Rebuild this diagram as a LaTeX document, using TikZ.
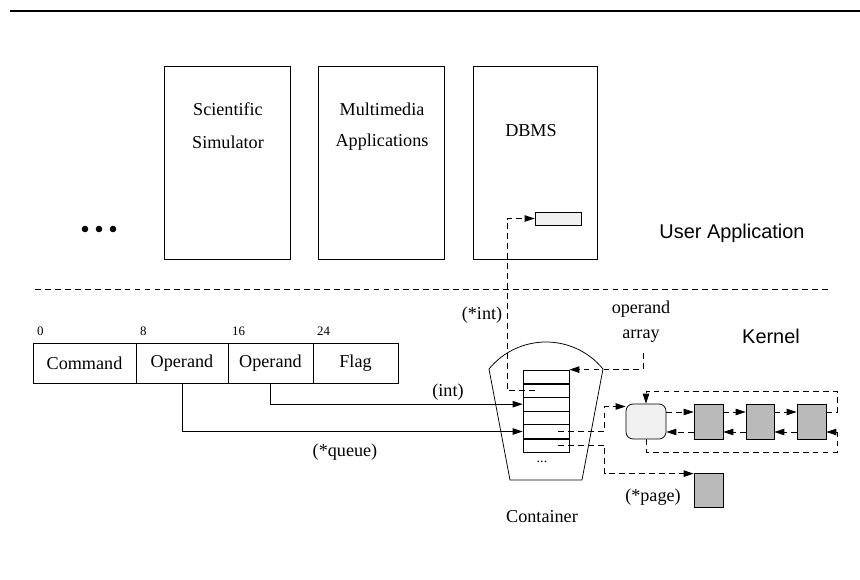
\documentclass[tikz,border=0pt]{standalone}
\usepackage{fontspec}
\setmainfont{Liberation Serif}
\newfontfamily\hvfont{Liberation Sans}
\usetikzlibrary{arrows.meta,fit,calc}
\begin{document}
\begin{tikzpicture}[x=0.03cm,y=-0.03cm,
  thinln/.style={line width=0.65pt},
  dsh/.style={line width=0.65pt, dash pattern=on 5pt off 3.5pt},
  tip/.style={-{Triangle[length=8.5pt,width=5.5pt]}},
  box/.style={draw, line width=0.65pt, inner sep=0pt},
  lbl/.style={font=\fontsize{15.5}{18}\selectfont, inner sep=0pt},
  small/.style={font=\fontsize{11}{13}\selectfont, inner sep=0pt, anchor=west},
  big/.style={font=\hvfont\fontsize{17}{20}\selectfont, inner sep=0pt},
  grayblk/.style={box, fill=black!27},
  lightblk/.style={box, fill=black!6},
  dotn/.style={circle, fill=black, inner sep=0pt, minimum size=5.6pt},
  rowbox/.style={box}
]
\useasboundingbox (0,0) rectangle (860,579);

% top rule
\draw[line width=1.3pt] (10,11) -- (860,11);

% application boxes
\node[box, fit={(164,66) (290,259)}] (sci) {};
\node[box, fit={(318,66) (444,259)}] (mm) {};
\node[box, fit={(473,66) (597,259)}] (dbms) {};
\node[lbl] (t1) at (228,109) {Scientific};
\node[lbl] (t2) at (228,142) {Simulator};
\node[lbl] (t3) at (382,109) {Multimedia};
\node[lbl] (t4) at (382,142) {Applications};
\node[lbl] (t5) at (531,131) {DBMS};
\node[lightblk, fit={(535,212) (581,225)}] (slot) {};

% dots
\node[dotn] (d1) at (85,229) {};
\node[dotn] (d2) at (99,229) {};
\node[dotn] (d3) at (113,229) {};

\node[big] (ua) at (732,233) {User Application};
\node[big] (kern) at (771,336) {Kernel};

% separator
\draw[dsh] (35,289) -- (830,289);

% command word
\node[box, fit={(33,343) (136,383)}] (cmd) {};
\node[box, fit={(136,343) (228,383)}] (op1) {};
\node[box, fit={(228,343) (313,383)}] (op2) {};
\node[box, fit={(313,343) (398,383)}] (flag) {};
\node[lbl] (tc) at (cmd.center) {Command};
\node[lbl] (to1) at (op1.center) {Operand};
\node[lbl] (to2) at (op2.center) {Operand};
\node[lbl] (tf) at (flag.center) {Flag};
\node[small] (b0) at (37,331) {0};
\node[small] (b8) at (140,331) {8};
\node[small] (b16) at (232,331) {16};
\node[small] (b24) at (317,331) {24};

% container
\draw[thinln] (489,369) -- (510,480) -- (582,480) -- (603,369)
  .. controls (573.5,333) and (518.5,333) .. (489,369);
\node[lbl] (cont) at (542,517) {Container};
\node[font=\fontsize{12}{14}\selectfont, inner sep=0pt] (ell) at (542,462) {...};

% operand array rows
\node[rowbox, fit={(523,370) (569,383.67)}] (r1) {};
\node[rowbox, fit={(523,383.67) (569,397.33)}] (r2) {};
\node[rowbox, fit={(523,397.33) (569,411)}] (r3) {};
\node[rowbox, fit={(523,411) (569,424.67)}] (r4) {};
\node[rowbox, fit={(523,424.67) (569,438.33)}] (r5) {};
\node[rowbox, fit={(523,438.33) (569,452)}] (r6) {};
\draw[line width=1.4pt] (r1.south west) -- (r1.south east);
\draw[line width=1.4pt] (r5.south west) -- (r5.south east);

% labels
\node[lbl] (lint) at (448,392) {(int)};
\node[lbl] (lqueue) at (345,452) {(*queue)};
\node[lbl] (lpint) at (482,315) {(*int)};
\node[lbl] (oa1) at (641,309) {operand};
\node[lbl] (oa) at (641,336) {array};
\node[lbl] (lpage) at (653,497) {(*page)};

% operand arrows
\draw[thinln, tip] (op1.south) |- (r5.west);
\draw[thinln, tip] (op2.south) |- (r3.west);

% (*int) pointer to DBMS slot
\draw[dsh, tip] ($(r2.center)+(-11,0)$) -- ++(-28,0) |- (slot.west);

% operand array label pointer
\draw[dsh, tip] ($(oa.south)+(2,11)$) |- (r1.north east);

% linked list
\node[box, rounded corners=6pt, fill=black!6, fit={(626,404) (666,439)}] (head) {};
\node[grayblk, fit={(694,404) (723,439)}] (n1) {};
\node[grayblk, fit={(746,404) (774,439)}] (n2) {};
\node[grayblk, fit={(797,404) (826,439)}] (n3) {};
\node[grayblk, fit={(694,473) (723,507)}] (page) {};
\coordinate (rtop) at (837,391);
\coordinate (rbot) at (837,452);

\draw[dsh, tip] (head.east |- 0,412) -- (n1.west |- 0,412);
\draw[dsh, tip] (n1.east |- 0,412) -- (n2.west |- 0,412);
\draw[dsh, tip] (n2.east |- 0,412) -- (n3.west |- 0,412);
\draw[dsh, tip] (n3.east |- 0,412) -| (rtop) -| (head.north);

\draw[dsh, tip] (n1.west |- 0,432) -- (head.east |- 0,432);
\draw[dsh, tip] (n2.west |- 0,432) -- (n1.east |- 0,432);
\draw[dsh, tip] (n3.west |- 0,432) -- (n2.east |- 0,432);
\draw[dsh, tip] (head.south) |- (rbot) |- (n3.east |- 0,432);

% array entries to list head and page
\draw[dsh, tip] ($(r5.center)+(12,0)$) -| ($(head.west)+(-21,-15)$) -- ($(head.west)+(0,-15)$);
\draw[dsh, tip] ($(r6.center)+(12,0)$) -| ($(page.north west)+(-89,1)$) -- ($(page.north west)+(0,1)$);
\end{tikzpicture}
\end{document}
